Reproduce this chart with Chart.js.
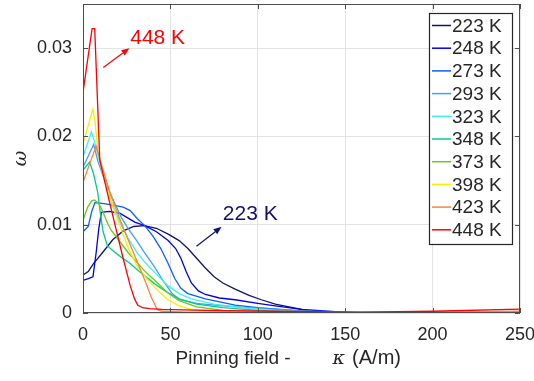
<!DOCTYPE html>
<html>
<head>
<meta charset="utf-8">
<script src="https://cdn.jsdelivr.net/npm/chart.js@4.4.0/dist/chart.umd.min.js"></script>
<style>
  html, body { margin: 0; padding: 0; background: #fff; }
  #wrap { width: 534px; height: 381px; }
</style>
</head>
<body>
<div id="wrap"><canvas id="chart" width="534" height="381"></canvas></div>
<script>
// temperatures shown in the legend
const temps = ['223 K', '248 K', '273 K', '293 K', '323 K', '348 K', '373 K', '398 K', '423 K', '448 K'];
const colors = ['#12126b', '#0000e0', '#0f5cff', '#40a0ff', '#3ef2f2', '#00cc8c', '#6cc818', '#f4f000', '#ff8040', '#ff0000'];

// [pinning field (A/m), omega]
const k223 = [[0,0.0043],[3,0.0047],[6,0.0056],[11,0.0068],[17,0.0083],[23,0.0093],[29,0.0098],[35,0.0099],[42,0.0096],[49,0.0089],[55,0.0082],[60,0.0073],[65,0.0062],[70,0.0051],[75,0.0041],[80,0.0034],[87,0.0027],[95,0.0020],[102,0.0015],[110,0.0010],[120,0.0006],[130,0.0002],[140,0.0001],[150,0],[250,0]];
const k248 = [[0,0.0037],[3,0.0039],[5.7,0.0041],[7.5,0.0068],[9,0.0095],[10.5,0.0114],[15,0.0115],[21,0.0113],[29.6,0.0103],[35.3,0.0099],[42,0.0092],[48.7,0.0082],[53,0.0073],[56,0.0062],[59,0.0047],[62,0.0034],[66,0.0025],[70,0.0021],[78,0.0017],[87,0.0015],[100,0.0011],[110,0.0008],[125,0.0004],[140,0.0002],[155,0],[250,0]];
const k273 = [[0,0.0092],[3,0.0098],[5,0.0115],[6.8,0.0125],[12,0.0124],[18,0.0122],[23,0.0120],[27,0.0116],[31,0.0107],[35.3,0.0099],[40,0.0087],[44.5,0.0073],[48.5,0.0057],[52.5,0.0039],[56,0.0028],[60,0.0022],[70,0.0016],[87,0.0009],[100,0.0006],[120,0.0003],[140,0.0001],[150,0],[250,0]];
const k293 = [[0,0.0165],[6.1,0.0191],[8.5,0.0172],[11,0.0158],[14,0.0143],[18,0.0125],[22,0.0108],[26,0.0095],[30,0.0084],[35,0.0069],[41,0.0052],[46,0.0036],[51,0.0022],[55.5,0.0015],[65,0.0011],[80,0.0008],[95,0.0006],[110,0.0004],[130,0.0002],[150,0.0001],[160,0],[250,0]];
const k323 = [[0,0.0177],[4.8,0.0205],[6.5,0.0195],[8.4,0.0180],[12,0.0152],[16,0.0127],[22,0.0099],[26,0.0084],[31,0.0068],[36,0.0056],[41,0.0046],[48.5,0.0031],[55,0.0022],[62,0.0016],[75,0.0010],[90,0.0006],[110,0.0003],[130,0.0001],[150,0],[250,0]];
const k348 = [[0,0.0162],[3.8,0.0171],[6,0.0158],[8.4,0.0137],[10,0.0112],[11.5,0.0092],[14,0.0076],[18,0.0069],[22,0.0063],[27,0.0056],[31,0.0049],[36,0.0041],[41,0.0033],[48.5,0.0023],[55,0.0016],[65,0.0010],[80,0.0006],[100,0.0003],[120,0.0001],[140,0],[250,0]];
const k373 = [[0,0.0105],[2.7,0.0120],[5,0.0127],[6.5,0.0128],[9,0.0124],[11.3,0.0115],[14,0.0102],[16,0.0094],[21.8,0.0079],[26,0.0068],[31,0.0057],[36,0.0046],[41,0.0037],[48.5,0.0023],[55,0.0014],[65,0.0007],[80,0.0003],[100,0.0001],[130,0],[250,0]];
const k398 = [[0,0.0192],[5.7,0.0231],[7,0.0215],[8.6,0.0182],[11,0.0160],[14,0.0139],[18,0.0115],[21.8,0.0095],[26,0.0073],[31,0.0053],[36,0.0040],[41,0.0029],[48.5,0.0015],[55,0.0008],[62,0.0004],[75,0.0002],[100,0.0001],[250,0.0001]];
const k423 = [[0,0.0148],[7.5,0.0189],[10,0.0172],[13,0.0152],[16,0.0133],[20,0.0112],[25,0.0087],[31,0.0058],[36,0.0034],[39,0.0018],[42.5,0.0004],[45,0.0002],[60,0.0001],[150,0.0001],[200,0.0001],[250,0.0002]];
const k448 = [[0,0.0250],[5.2,0.0322],[6.7,0.0322],[9.6,0.0173],[15,0.0127],[22.7,0.0064],[27,0.0031],[29.5,0.0016],[31.3,0.0009],[34,0.0006],[38,0.0005],[45,0.0004],[70,0.0003],[110,0.0002],[160,0.0001],[200,0.0002],[250,0.00045]];
const series = [k223, k248, k273, k293, k323, k348, k373, k398, k423, k448];

const xTicks = [0, 50, 100, 150, 200, 250];
const yTicks = [0, 0.01, 0.02, 0.03];

// arrow notes: [text, color, tail x, tail y, head x, head y, text x, text y]
const notes = [
    ['448 K', '#ff0000', 11.6, 0.0278, 26.5, 0.0300, 27.0, 0.0311],
    ['223 K', '#12126b', 64.9, 0.00757, 79.3, 0.00976, 80.0, 0.0112]
];

const textColor = '#262626';
const sans = "'Liberation Sans', Arial, sans-serif";

function arrow(ctx, x1, y1, x2, y2, color) {
    const a = Math.atan2(y2 - y1, x2 - x1);
    const len = 8, half = 3.2;
    ctx.strokeStyle = color;
    ctx.fillStyle = color;
    ctx.lineWidth = 1.2;
    ctx.beginPath();
    ctx.moveTo(x1, y1);
    ctx.lineTo(x2 - len * Math.cos(a), y2 - len * Math.sin(a));
    ctx.stroke();
    ctx.beginPath();
    ctx.moveTo(x2, y2);
    ctx.lineTo(x2 - len * Math.cos(a) + half * Math.sin(a), y2 - len * Math.sin(a) - half * Math.cos(a));
    ctx.lineTo(x2 - len * Math.cos(a) - half * Math.sin(a), y2 - len * Math.sin(a) + half * Math.cos(a));
    ctx.closePath();
    ctx.fill();
}

const framePlugin = {
    id: 'frame',
    afterDraw(chart) {
        const ctx = chart.ctx;
        const { left, right, top, bottom } = chart.chartArea;
        const xs = chart.scales.x, ys = chart.scales.y;
        ctx.save();

        // box and inward ticks
        ctx.strokeStyle = '#4d4d4d';
        ctx.lineWidth = 1;
        ctx.strokeRect(left + 0.5, top + 0.5, right - left - 1, bottom - top - 1);
        ctx.beginPath();
        xTicks.forEach(v => {
            const px = Math.round(xs.getPixelForValue(v)) + 0.5;
            ctx.moveTo(px, bottom); ctx.lineTo(px, bottom - 5);
            ctx.moveTo(px, top); ctx.lineTo(px, top + 5);
        });
        yTicks.forEach(v => {
            const py = Math.round(ys.getPixelForValue(v)) + 0.5;
            ctx.moveTo(left, py); ctx.lineTo(left + 5, py);
            ctx.moveTo(right, py); ctx.lineTo(right - 5, py);
        });
        ctx.stroke();

        // notes with arrows
        notes.forEach(([txt, col, tx, ty, hx, hy, lx, ly]) => {
            arrow(ctx, xs.getPixelForValue(tx), ys.getPixelForValue(ty),
                xs.getPixelForValue(hx), ys.getPixelForValue(hy), col);
            ctx.fillStyle = col;
            ctx.font = '21px ' + sans;
            ctx.textAlign = 'left';
            ctx.textBaseline = 'middle';
            ctx.fillText(txt, xs.getPixelForValue(lx), ys.getPixelForValue(ly));
        });

        // legend box
        const rowH = 22.7;
        const bw = 83, bh = rowH * temps.length + 4;
        const bx = right - 8 - bw, by = top + 8.5;
        ctx.fillStyle = '#fff';
        ctx.fillRect(bx, by, bw, bh);
        ctx.strokeStyle = '#262626';
        ctx.strokeRect(Math.round(bx) + 0.5, Math.round(by) + 0.5, bw, Math.round(bh));
        ctx.font = '19px ' + sans;
        ctx.textBaseline = 'middle';
        chart.data.datasets.forEach((ds, i) => {
            const cy = by + 13 + i * rowH;
            ctx.strokeStyle = ds.borderColor;
            ctx.lineWidth = 1.5;
            ctx.beginPath();
            ctx.moveTo(bx + 3, cy); ctx.lineTo(bx + 22, cy);
            ctx.stroke();
            ctx.fillStyle = textColor;
            ctx.fillText(ds.label, bx + 23, cy + 1);
        });

        // axis titles
        ctx.fillStyle = textColor;
        ctx.textBaseline = 'alphabetic';
        ctx.textAlign = 'left';
        const ty = bottom + 51;
        ctx.font = '19px ' + sans;
        const partA = 'Pinning field -';
        const x0 = (left + right) / 2 - 126;
        ctx.fillText(partA, x0, ty);
        const xk = x0 + ctx.measureText(partA).width + 42;
        ctx.font = 'italic 19px "DejaVu Serif", serif';
        ctx.fillText('\u03ba', xk, ty);
        const xb = xk + ctx.measureText('\u03ba').width + 7;
        ctx.font = '20px ' + sans;
        ctx.fillText('(A/m)', xb, ty);

        ctx.translate(left - 62, (top + bottom) / 2);
        ctx.rotate(-Math.PI / 2);
        ctx.textAlign = 'center';
        ctx.textBaseline = 'middle';
        ctx.font = 'italic 19px "DejaVu Serif", serif';
        ctx.fillText('\u03c9', 0, 0);
        ctx.restore();
    }
};

const ctx = document.getElementById('chart').getContext('2d');
const chart = new Chart(ctx, {
    type: 'line',
    data: {
        datasets: series.map((pts, i) => ({
            label: temps[i],
            data: pts.map(([x, y]) => ({ x, y })),
            borderColor: colors[i],
            backgroundColor: colors[i],
            borderWidth: 1.3,
            pointRadius: 0,
            tension: 0,
            fill: false,
            order: series.length - i   // later temperatures drawn on top
        }))
    },
    options: {
        responsive: false,
        animation: false,
        devicePixelRatio: 1,
        layout: { padding: { top: 4, right: 14, left: 0, bottom: 0 } },
        plugins: {
            legend: { display: false },
            tooltip: { enabled: false }
        },
        scales: {
            x: {
                type: 'linear',
                min: 0,
                max: 250,
                afterBuildTicks: s => { s.ticks = xTicks.map(v => ({ value: v })); },
                afterFit: s => { s.height = 68; s.paddingLeft = 0; s.paddingRight = 0; },
                grid: { color: '#e3e3e3', drawTicks: false },
                border: { display: false },
                ticks: {
                    color: textColor,
                    padding: 11,
                    maxRotation: 0,
                    font: { family: sans, size: 18 },
                    callback: v => String(v)
                }
            },
            y: {
                min: 0,
                max: 0.035,
                afterBuildTicks: s => { s.ticks = yTicks.map(v => ({ value: v })); },
                afterFit: s => { s.width = 83; s.paddingTop = 0; s.paddingBottom = 0; },
                grid: { color: '#e3e3e3', drawTicks: false },
                border: { display: false },
                ticks: {
                    color: textColor,
                    padding: 11,
                    font: { family: sans, size: 18 },
                    callback: v => String(v)
                }
            }
        }
    },
    plugins: [framePlugin]
});
</script>
</body>
</html>
